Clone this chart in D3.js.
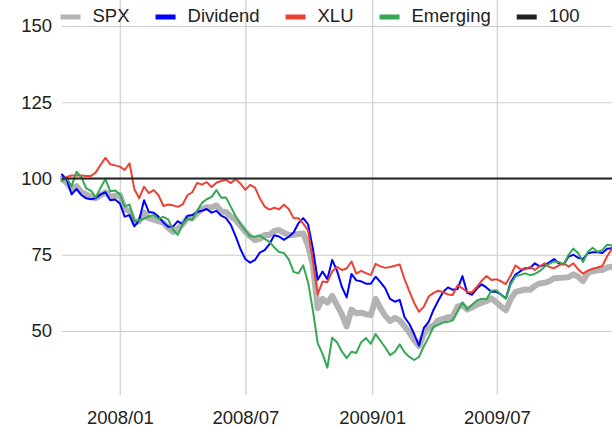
<!DOCTYPE html>
<html>

<head>
    <meta charset="utf-8">
    <script src="https://d3js.org/d3.v7.min.js"></script>
    <style>
        body { margin: 0; background: #fff; }
        svg text { font-family: "Liberation Sans", Arial, sans-serif; }
    </style>
</head>

<body>
    <div id="chart"></div>
    <script>
        // weekly closes, rebased to 100 at the Oct 2007 peak
        const firstWeek = "2007-10-09";
        const weekCount = 115;

        const spx = [
            100, 98.5, 96.5, 97.5, 95.5, 94.8, 94, 93.5, 94.5, 95.5,
            94, 94.3, 94.6, 90, 89.2, 85.5, 86, 88.8, 87, 86.5,
            86, 85.5, 83.8, 82.5, 83.5, 85, 87, 87, 88.6, 90,
            90.6, 90.5, 91.2, 89.2, 89, 87.5, 86.4, 84.5, 82.5, 81,
            79.8, 80.2, 81.5, 81.5, 82.8, 83.1, 82.2, 81.5, 81.5, 81.8,
            82, 78, 71.6, 57.5, 60.5, 59.3, 61.5, 58.5, 55.5, 51.5,
            57, 55.8, 56, 55.5, 55.2, 60.5, 57.5, 55, 53.3, 54.3,
            53.5, 51.5, 49.5, 47, 45, 49, 51, 51.8, 53.5, 54,
            54.5, 54.7, 58, 58.5, 57, 57.8, 58.6, 59.3, 59.8, 60.7,
            59.5, 58, 56.8, 60.5, 62.8, 63.2, 63.6, 63.5, 64.8, 65.6,
            65.8, 66.3, 67.3, 67.4, 67.5, 67.6, 68.6, 67.8, 66.4, 69,
            69.6, 69.9, 70, 70.8, 71.1
        ];

        const dividend = [
            101.3, 99.5, 94.8, 96.6, 94.6, 93.5, 93.2, 93.5, 94.8, 95.5,
            92.9, 93.1, 91.8, 87.5, 88, 84.3, 86.3, 92.9, 89, 88.8,
            87.5, 85.6, 84.2, 84.2, 86, 85, 87.8, 88, 89, 89.4,
            90, 88.8, 89.4, 87.8, 87, 84.8, 81, 76.8, 73.6, 72.4,
            73.3, 75.7, 76.5, 78.5, 81.4, 81, 79.9, 80.9, 82.3, 85.3,
            87, 85, 77, 66.8, 69.5, 67, 73.3, 69.8, 64.5, 61,
            68.7, 66.6, 66.3, 65.5, 65.5, 67.8, 66, 64, 60.5, 59.6,
            60.2, 54.5, 52.3, 49, 45.2, 51, 53, 56.9, 60, 62.8,
            64.3, 63.5, 63.8, 68, 62.5, 61.9, 63.9, 65.3, 64.2, 62.9,
            62.9, 61.9, 60.7, 66, 68.5, 69.6, 70.6, 70.6, 72.2, 71.2,
            71.6, 72.5, 73.6, 72.1, 71.8, 74.4, 75, 74, 73.6, 75.5,
            75.8, 75.8, 75.6, 77, 77.1
        ];

        const xlu = [
            99.8, 100.5, 101, 101, 101, 100.8, 100.8, 102, 104.5, 106.8,
            104.7, 104.3, 103.9, 102.8, 105, 96.5, 93.5, 97.3, 95.2, 96.2,
            94.5, 91, 91.5, 91.2, 90.7, 91.5, 94.5, 95.5, 98.5, 98,
            98.8, 97.2, 98.6, 99.2, 99.6, 98.5, 99.8, 98.3, 96.3, 97.9,
            97, 93.5, 90.8, 89.8, 90.4, 89.9, 91.4, 90, 87, 87,
            85.2, 83, 73, 62, 66.2, 66, 69.5, 71, 70, 70.5,
            72.8, 68.8, 69.7, 69, 68.3, 72, 71.2, 70.7, 71, 71.4,
            71.8, 67, 63, 59.2, 56.3, 58, 61.3, 62.5, 63.2, 62.7,
            62, 61.8, 65, 64, 62.8, 62.7, 64.5, 66.5, 68, 66.7,
            67, 66.3, 65.4, 68.2, 71.5, 70.3, 70.2, 71, 70, 71.2,
            72.2, 71, 70.6, 71.5, 72.2, 71.1, 72.2, 70.2, 68.8, 69.8,
            70.4, 70.8, 71.3, 74.5, 77
        ];

        const emerging = [
            99.2, 100, 97.5, 102.2, 100.5, 96.8, 96, 93.8, 97, 99.8,
            95.8, 96.1, 94.8, 90.8, 91.5, 86, 86.3, 86.8, 87.6, 88,
            86.8, 87.4, 86.6, 83.2, 81.5, 85, 86.8, 86.5, 89.4, 92,
            93.2, 94, 96.2, 93.7, 93.8, 90.7, 87.6, 85.1, 83, 81,
            80.9, 81.4, 80.2, 79.2, 77.4, 75.9, 75.6, 73.5, 69.4, 68.9,
            71.5, 66, 56.8, 46, 42.5, 38, 47.8, 46.3, 43.3, 41.1,
            43.2, 42.8, 46.3, 47.7, 45.8, 49, 46.8, 44.6, 42.1, 43.2,
            45.6, 43, 41.5, 40.5, 41.5, 45, 48, 51.4, 52, 52.8,
            53, 53.5, 56.5, 59.4, 57.1, 58.6, 60, 60.6, 60.4, 63.2,
            63.4, 62, 60.6, 65.3, 67.9, 68.4, 68.9, 68.3, 68.7, 69.6,
            71, 72, 72.8, 72.6, 71.9, 75, 77, 75.5, 72.6, 76,
            77.3, 76, 76.5, 78.3, 78
        ];

        const baseLevel = 100;

        const seriesNames = ["SPX", "Dividend", "XLU", "Emerging", "100"];
        const seriesColors = ["#b3b3b3", "#0000ff", "#ea4335", "#34a853", "#222222"];

        const yTicks = [50, 75, 100, 125, 150];
        const xTicks = ["2008-01-01", "2008-07-01", "2009-01-01", "2009-07-01"];

        const width = 612;
        const height = 428;
        const margin = { top: 26, right: 0, bottom: 36, left: 62 };
        const plotW = width - margin.left - margin.right;
        const plotH = height - margin.top - margin.bottom;

        const parse = d3.timeParse("%Y-%m-%d");
        const start = parse(firstWeek);
        const dates = d3.range(weekCount).map(i => d3.timeDay.offset(start, 7 * i));

        const svg = d3.select("#chart")
            .append("svg")
            .attr("width", width)
            .attr("height", height);

        const g = svg.append("g")
            .attr("transform", `translate(${margin.left}, ${margin.top})`);

        const xScale = d3.scaleTime()
            .domain([start, dates[dates.length - 1]])
            .range([0, plotW]);

        const yScale = d3.scaleLinear()
            .domain([30, 150])
            .range([plotH, 0]);

        // vertical grid + month labels
        const xAxis = g.append("g")
            .attr("transform", `translate(0, ${plotH})`)
            .call(d3.axisBottom(xScale)
                .tickValues(xTicks.map(parse))
                .tickFormat(d3.timeFormat("%Y/%m"))
                .tickSizeInner(-(plotH + margin.top))
                .tickSizeOuter(0)
                .tickPadding(19));
        xAxis.select(".domain").remove();
        xAxis.selectAll(".tick line")
            .attr("y1", 3)
            .attr("stroke", "#d6d6d6")
            .attr("stroke-width", 1.5);
        xAxis.selectAll(".tick text")
            .attr("fill", "#222")
            .style("font-size", "18.5px");

        // horizontal grid + value labels
        const yAxis = g.append("g")
            .call(d3.axisLeft(yScale)
                .tickValues(yTicks)
                .tickSizeInner(-plotW)
                .tickSizeOuter(0)
                .tickPadding(10));
        yAxis.select(".domain").remove();
        yAxis.selectAll(".tick line")
            .attr("stroke", "#cccccc")
            .attr("stroke-width", 1);
        yAxis.selectAll(".tick text")
            .attr("fill", "#222")
            .style("font-size", "18.5px");

        g.append("clipPath")
            .attr("id", "plot-clip")
            .append("rect")
            .attr("x", -2)
            .attr("y", -margin.top)
            .attr("width", plotW + 2)
            .attr("height", plotH + margin.top);

        const line = d3.line()
            .x((d, i) => xScale(dates[i]))
            .y(d => yScale(d));

        const lines = g.append("g").attr("clip-path", "url(#plot-clip)");

        const seriesData = [spx, dividend, xlu, emerging];
        const widths = [6, 2, 2, 2];

        seriesData.forEach((values, k) => {
            lines.append("path")
                .datum(values)
                .attr("fill", "none")
                .attr("stroke", seriesColors[k])
                .attr("stroke-width", widths[k])
                .attr("stroke-linejoin", "round")
                .attr("stroke-linecap", "round")
                .attr("d", line);
        });

        // the flat 100 reference
        lines.append("line")
            .attr("x1", 0)
            .attr("x2", plotW)
            .attr("y1", yScale(baseLevel))
            .attr("y2", yScale(baseLevel))
            .attr("stroke", seriesColors[4])
            .attr("stroke-width", 2);

        // legend across the top
        const legend = svg.append("g").attr("class", "legend");
        let lx = 60.5;
        seriesNames.forEach((name, k) => {
            legend.append("rect")
                .attr("x", lx)
                .attr("y", 14.5)
                .attr("width", 20)
                .attr("height", 5)
                .attr("fill", seriesColors[k]);
            const t = legend.append("text")
                .attr("x", lx + 32)
                .attr("y", 22)
                .attr("fill", "#222")
                .style("font-size", "18.5px")
                .text(name);
            lx += 32 + t.node().getComputedTextLength() + 26;
        });
    </script>
</body>

</html>
